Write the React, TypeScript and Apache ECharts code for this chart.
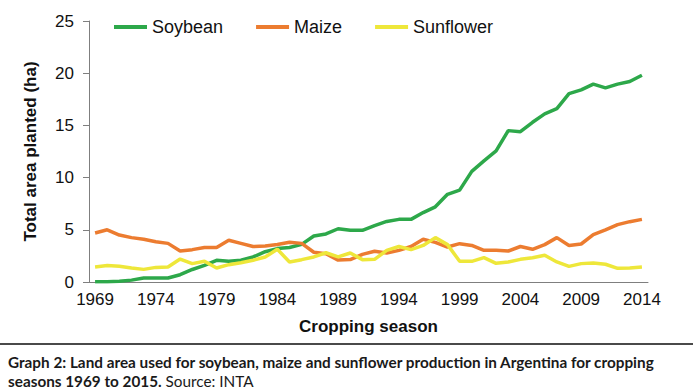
import React, { useEffect, useRef } from "react";
import * as echarts from "echarts";

const years = [
  "1969", "1970", "1971", "1972", "1973", "1974", "1975", "1976", "1977", "1978",
  "1979", "1980", "1981", "1982", "1983", "1984", "1985", "1986", "1987", "1988",
  "1989", "1990", "1991", "1992", "1993", "1994", "1995", "1996", "1997", "1998",
  "1999", "2000", "2001", "2002", "2003", "2004", "2005", "2006", "2007", "2008",
  "2009", "2010", "2011", "2012", "2013", "2014",
];

const soybean = [
  0.02, 0.03, 0.08, 0.18, 0.38, 0.38, 0.38, 0.7, 1.2, 1.6,
  2.08, 1.98, 2.08, 2.4, 2.9, 3.2, 3.3, 3.6, 4.4, 4.6,
  5.1, 4.95, 4.95, 5.4, 5.8, 6.0, 6.0, 6.65, 7.2, 8.4,
  8.8, 10.6, 11.6, 12.55, 14.5, 14.4, 15.3, 16.1, 16.6, 18.05,
  18.4, 18.95, 18.6, 18.95, 19.2, 19.8,
];

const maize = [
  4.7, 5.0, 4.5, 4.25, 4.1, 3.85, 3.7, 2.97, 3.1, 3.3,
  3.3, 4.0, 3.7, 3.4, 3.45, 3.6, 3.8, 3.7, 2.85, 2.7,
  2.1, 2.15, 2.65, 2.95, 2.78, 3.03, 3.4, 4.1, 3.8, 3.35,
  3.67, 3.5, 3.03, 3.03, 2.97, 3.4, 3.13, 3.58, 4.25, 3.5,
  3.64, 4.54, 5.0, 5.5, 5.78, 6.0,
];

const sunflower = [
  1.44, 1.57, 1.5, 1.34, 1.21, 1.4, 1.44, 2.2, 1.76, 1.98,
  1.34, 1.66, 1.85, 2.08, 2.4, 3.13, 1.92, 2.14, 2.4, 2.8,
  2.4, 2.78, 2.14, 2.17, 3.03, 3.4, 3.1, 3.5, 4.25, 3.58,
  1.98, 1.98, 2.33, 1.79, 1.92, 2.17, 2.33, 2.56, 1.92, 1.5,
  1.76, 1.82, 1.7, 1.31, 1.34, 1.44,
];

const seriesNames = ["Soybean", "Maize", "Sunflower"];
const seriesColors = ["#2DA84A", "#EC7C30", "#EEE73A"];

const captionBold =
  "Graph 2: Land area used for soybean, maize and sunflower production in Argentina for cropping";
const captionBold2 = "seasons 1969 to 2015.";
const captionSource = " Source: INTA";

export default function App() {
  const ref = useRef<HTMLDivElement>(null);

  useEffect(() => {
    if (!ref.current) return;
    const chart = echarts.init(ref.current, undefined, { renderer: "svg" });
    const font = "'Liberation Sans', Arial, sans-serif";
    const capFont = "Lato, 'Open Sans', sans-serif";
    const capSize = 15.3;
    const data = [soybean, maize, sunflower];
    chart.setOption({
      animation: false,
      backgroundColor: "#ffffff",
      textStyle: { fontFamily: font },
      legend: {
        top: 18,
        left: 114,
        padding: 0,
        itemWidth: 33,
        itemHeight: 4,
        itemGap: 33,
        icon: "rect",
        textStyle: { fontSize: 18, color: "#111", fontFamily: font },
        data: seriesNames,
      },
      grid: { left: 89, right: 52, top: 21, bottom: 110, containLabel: false },
      xAxis: {
        type: "category",
        data: years,
        boundaryGap: true,
        name: "Cropping season",
        nameLocation: "middle",
        nameGap: 36,
        nameTextStyle: { fontSize: 17, fontWeight: "bold", color: "#111", fontFamily: font },
        axisLine: { lineStyle: { color: "#7f7f7f", width: 1 } },
        axisTick: { interval: 4, length: 6, lineStyle: { color: "#7f7f7f" } },
        axisLabel: { interval: 4, fontSize: 17, color: "#111", margin: 9, fontFamily: font },
      },
      yAxis: {
        type: "value",
        min: 0,
        max: 25,
        interval: 5,
        name: "Total area planted (ha)",
        nameLocation: "middle",
        nameGap: 50,
        nameRotate: 90,
        nameTextStyle: { fontSize: 17, fontWeight: "bold", color: "#111", fontFamily: font },
        axisLine: { show: true, lineStyle: { color: "#7f7f7f", width: 1 } },
        axisTick: { show: true, length: 6, lineStyle: { color: "#7f7f7f" } },
        splitLine: { show: false },
        axisLabel: { fontSize: 17, color: "#111", margin: 15, fontFamily: font },
      },
      series: seriesNames.map((name, i) => ({
        name,
        type: "line",
        data: data[i],
        showSymbol: false,
        symbol: "none",
        color: seriesColors[i],
        lineStyle: { width: 3.5, color: seriesColors[i] },
      })),
      graphic: [
        {
          type: "line",
          shape: { x1: 0, y1: 344, x2: 693, y2: 344 },
          style: { stroke: "#4a4a4a", lineWidth: 2 },
        },
        {
          type: "text",
          x: 8,
          y: 362,
          style: {
            text: captionBold,
            fontFamily: capFont,
            fontSize: capSize,
            fontWeight: "bold",
            fill: "#1a1a1a",
            verticalAlign: "middle",
          },
        },
        {
          type: "text",
          x: 8,
          y: 381,
          style: {
            text: "{b|" + captionBold2 + "}{r|" + captionSource + "}",
            verticalAlign: "middle",
            rich: {
              b: { fontFamily: capFont, fontSize: capSize, fontWeight: "bold", fill: "#1a1a1a", color: "#1a1a1a" },
              r: { fontFamily: capFont, fontSize: capSize, fontWeight: "normal", fill: "#1a1a1a", color: "#1a1a1a" },
            },
          },
        },
      ],
    });
    return () => chart.dispose();
  }, []);

  return (
    <div
      ref={ref}
      style={{ position: "fixed", left: 0, top: 0, width: 700, height: 392, background: "#fff" }}
    />
  );
}
